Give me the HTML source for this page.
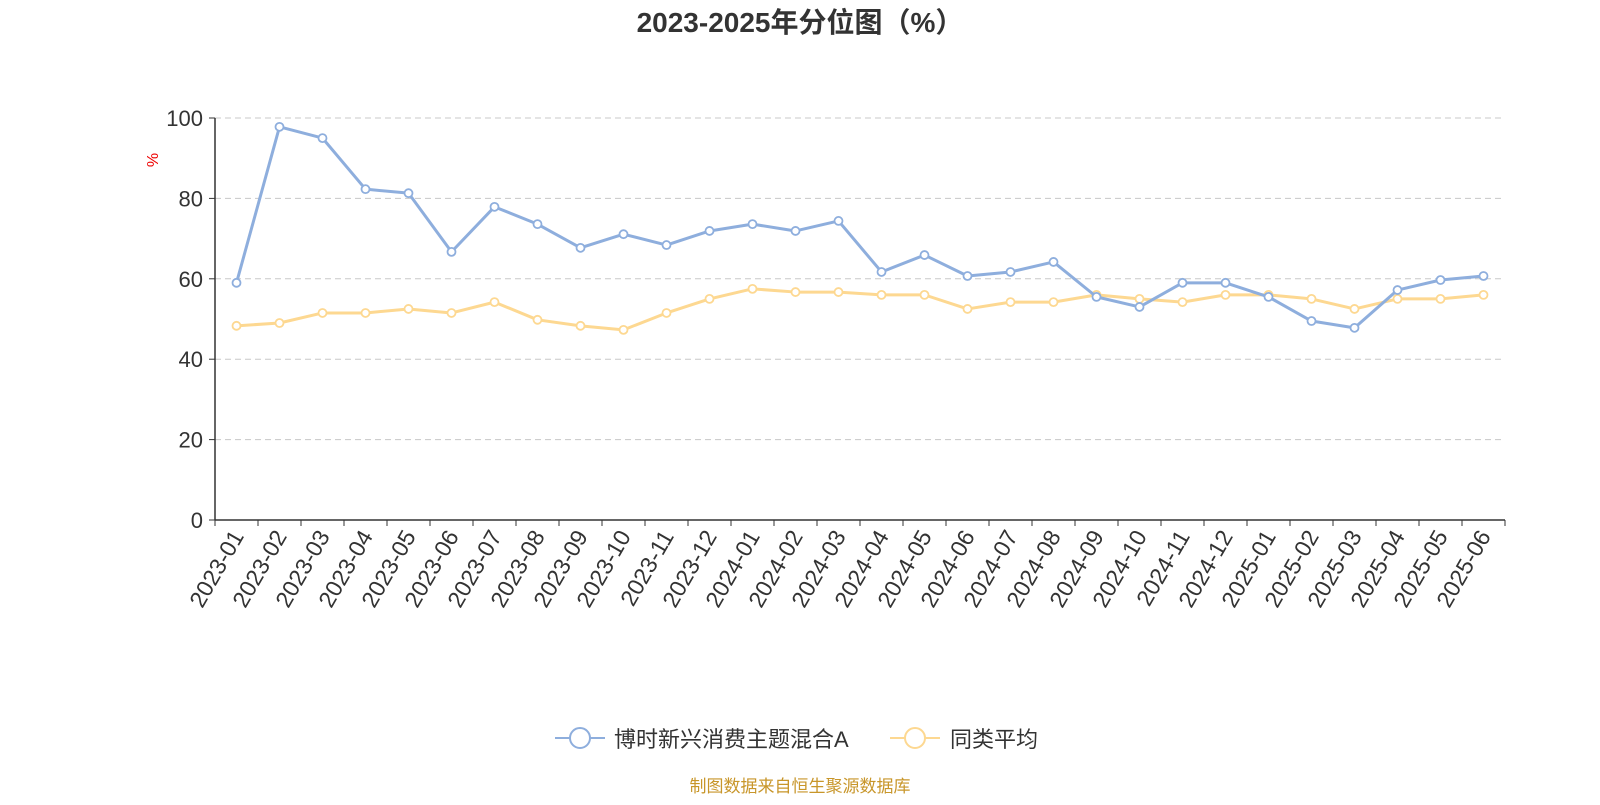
<!DOCTYPE html>
<html><head><meta charset="utf-8"><style>
body{margin:0;background:#fff;width:1600px;height:800px;overflow:hidden;font-family:"Liberation Sans","Noto Sans CJK SC",sans-serif}
</style></head><body>
<svg id="c" width="1600" height="800" xmlns="http://www.w3.org/2000/svg">
<text x="800" y="32" text-anchor="middle" font-size="28" font-weight="bold" fill="#333" font-family="Liberation Sans,Noto Sans CJK SC,sans-serif">2023-2025年分位图（%）</text>
<text x="158" y="160" font-size="16" fill="#e00" transform="rotate(-90 158 160)" text-anchor="middle">%</text>
<g id="grid"></g><g id="axes"></g><g id="series"></g>
<g>
<g>
<line x1="555" y1="738" x2="605" y2="738" stroke="#8eaedd" stroke-width="2"/><circle cx="580" cy="738" r="10" fill="#fff" stroke="#8eaedd" stroke-width="2"/>
<text x="614" y="747" font-size="22" fill="#333">博时新兴消费主题混合A</text></g>
<g>
<line x1="890" y1="738" x2="940" y2="738" stroke="#fdd891" stroke-width="2"/><circle cx="915" cy="738" r="10" fill="#fff" stroke="#fdd891" stroke-width="2"/>
<text x="950" y="747" font-size="22" fill="#333">同类平均</text></g>
</g>
<text x="800" y="792" text-anchor="middle" font-size="17" fill="#c8962a">制图数据来自恒生聚源数据库</text>
</svg>
<script>
const categories=["2023-01","2023-02","2023-03","2023-04","2023-05","2023-06","2023-07","2023-08","2023-09","2023-10","2023-11","2023-12","2024-01","2024-02","2024-03","2024-04","2024-05","2024-06","2024-07","2024-08","2024-09","2024-10","2024-11","2024-12","2025-01","2025-02","2025-03","2025-04","2025-05","2025-06"];
const fundValues=[59,97.8,95,82.3,81.3,66.7,77.9,73.6,67.7,71.1,68.4,71.9,73.6,71.9,74.4,61.7,65.9,60.7,61.7,64.2,55.5,53,59,59,55.5,49.5,47.8,57.2,59.7,60.7];
const avgValues=[48.3,49,51.5,51.5,52.5,51.5,54.2,49.8,48.3,47.3,51.5,55,57.5,56.7,56.7,56,56,52.5,54.2,54.2,56,55,54.2,56,56,55,52.5,55,55,56];
const yTicks=[0,20,40,60,80,100];
const NS="http://www.w3.org/2000/svg";
const X0=215,X1=1505,Y0=520,Y1=118;
const bw=(X1-X0)/categories.length;
const xs=i=>X0+bw*(i+0.5);
const ys=v=>Y0-(v/100)*(Y0-Y1);
function mk(t,a,p){const e=document.createElementNS(NS,t);for(const k in a)e.setAttribute(k,a[k]);p.appendChild(e);return e;}
const grid=document.getElementById('grid'),axes=document.getElementById('axes'),ser=document.getElementById('series');
yTicks.forEach(t=>{
 if(t>0){const g=mk('line',{x1:X0,x2:X1,y1:ys(t),y2:ys(t),stroke:'#c8c8c8','stroke-dasharray':'6,4'},grid);
 
 }
 const l=mk('text',{x:X0-12,y:ys(t)+8,'text-anchor':'end','font-size':22,fill:'#333'},axes);l.textContent=t;
 
 
 mk('line',{x1:X0-6,x2:X0,y1:ys(t),y2:ys(t),stroke:'#333'},axes);
});
const ya=mk('line',{x1:X0,x2:X0,y1:Y1,y2:Y0,stroke:'#333','stroke-width':1.5},axes);


const xa=mk('line',{x1:X0,x2:X1,y1:Y0,y2:Y0,stroke:'#333','stroke-width':1.5},axes);


for(let i=0;i<=categories.length;i++)mk('line',{x1:X0+bw*i,x2:X0+bw*i,y1:Y0,y2:Y0+6,stroke:'#333'},axes);
categories.forEach((c,i)=>{
 const x=xs(i)+8,y=Y0+16;
 const t=mk('text',{x:x,y:y,'text-anchor':'end','font-size':23,fill:'#333',transform:`rotate(-60 ${x} ${y})`},axes);t.textContent=c;
 
 
});
function draw(vals,color,name){
 const g=mk('g',{},ser);
 
 
 mk('polyline',{points:vals.map((v,i)=>xs(i)+','+ys(v)).join(' '),fill:'none',stroke:color,'stroke-width':3,'stroke-linejoin':'round'},g);
 vals.forEach((v,i)=>{const p=mk('circle',{cx:xs(i),cy:ys(v),r:4,fill:'#fff',stroke:color,'stroke-width':1.8},g);
 
 });
}
draw(avgValues,'#fdd891','average-series');
draw(fundValues,'#8eaedd','fund-series');
</script>
</body></html>
